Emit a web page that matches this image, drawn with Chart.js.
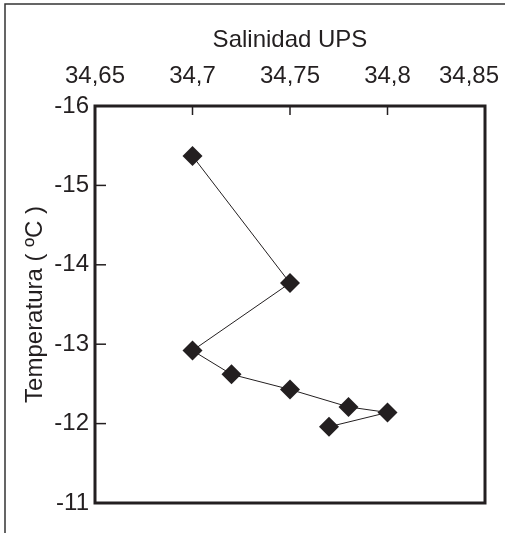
<!DOCTYPE html>
<html lang="es">
<head>
    <meta charset="UTF-8">
    <title>Salinidad vs Temperatura</title>
    <script src="https://cdn.jsdelivr.net/npm/chart.js"></script>
    <style>
        body {
            margin: 0;
            padding: 0;
            background: #fff;
        }
        .chart-box {
            width: 505px;
            height: 533px;
            position: relative;
        }
    </style>
</head>
<body>
    <div class="chart-box">
        <canvas id="tsChart"></canvas>
    </div>

    <script>
        // valores (orden del perfil)
        const salinidad = [34.70, 34.75, 34.70, 34.72, 34.75, 34.78, 34.80, 34.77];
        const temperatura = [-15.37, -13.77, -12.92, -12.62, -12.43, -12.21, -12.14, -11.96];

        const xTicks = [34.65, 34.7, 34.75, 34.8, 34.85];
        const yTicks = [-16, -15, -14, -13, -12, -11];

        const puntos = salinidad.map((s, i) => ({ x: s, y: temperatura[i] }));
        const fuente = { family: "'Liberation Sans', Arial, sans-serif", size: 24 };
        const tinta = '#231f20';
        const etiquetaX = v => String(v).replace('.', ',');

        // marco del area, marcas de tick hacia adentro y etiquetas del eje x
        const marcoPlugin = {
            id: 'marco',
            afterDatasetsDraw(chart) {
                const ctx = chart.ctx;
                const a = chart.chartArea;
                const xs = chart.scales.x;
                const ys = chart.scales.y;
                ctx.save();
                ctx.strokeStyle = tinta;
                ctx.lineWidth = 1.5;
                xTicks.forEach(v => {
                    const px = xs.getPixelForValue(v);
                    ctx.beginPath();
                    ctx.moveTo(px, a.top);
                    ctx.lineTo(px, a.top + 9);
                    ctx.stroke();
                });
                yTicks.forEach(v => {
                    const py = ys.getPixelForValue(v);
                    ctx.beginPath();
                    ctx.moveTo(a.left, py);
                    ctx.lineTo(a.left + 11, py);
                    ctx.stroke();
                });
                ctx.lineWidth = 3;
                ctx.strokeRect(a.left, a.top, a.right - a.left, a.bottom - a.top);

                // etiquetas x: centradas en el tick, sin salirse del lienzo
                ctx.fillStyle = tinta;
                ctx.font = `${fuente.size}px ${fuente.family}`;
                ctx.textAlign = 'center';
                ctx.textBaseline = 'alphabetic';
                xTicks.forEach(v => {
                    const txt = etiquetaX(v);
                    const w = ctx.measureText(txt).width;
                    let px = xs.getPixelForValue(v);
                    px = Math.min(px, chart.width - 6 - w / 2);
                    ctx.fillText(txt, px, a.top - 23);
                });

                // marco exterior (solo arriba e izquierda)
                ctx.lineWidth = 1.5;
                ctx.strokeStyle = '#333';
                ctx.beginPath();
                ctx.moveTo(5, chart.height);
                ctx.lineTo(5, 4);
                ctx.lineTo(chart.width, 4);
                ctx.stroke();
                ctx.restore();
            }
        };

        new Chart(document.getElementById('tsChart'), {
            type: 'scatter',
            data: {
                datasets: [{
                    data: puntos,
                    showLine: true,
                    borderColor: tinta,
                    borderWidth: 1,
                    backgroundColor: tinta,
                    pointStyle: 'rectRot',
                    pointRadius: 10,
                    pointHoverRadius: 10,
                    pointBorderWidth: 0,
                    clip: false
                }]
            },
            options: {
                responsive: true,
                maintainAspectRatio: false,
                animation: false,
                layout: { padding: { left: 0, top: 0, right: 20, bottom: 30 } },
                plugins: {
                    legend: { display: false },
                    tooltip: { enabled: false }
                },
                scales: {
                    x: {
                        type: 'linear',
                        position: 'top',
                        min: 34.65,
                        max: 34.85,
                        afterBuildTicks: scale => { scale.ticks = xTicks.map(v => ({ value: v })); },
                        afterFit: scale => {
                            scale.height = 106;
                            scale.paddingLeft = 0;
                            scale.paddingRight = 0;
                        },
                        grid: { display: false, drawTicks: false },
                        border: { display: false },
                        ticks: { display: false },
                        title: {
                            display: true,
                            text: 'Salinidad UPS',
                            color: tinta,
                            font: fuente,
                            padding: { top: 26, bottom: 0 }
                        }
                    },
                    y: {
                        type: 'linear',
                        min: -16,
                        max: -11,
                        reverse: true,
                        afterBuildTicks: scale => { scale.ticks = yTicks.map(v => ({ value: v })); },
                        afterFit: scale => {
                            scale.width = 95;
                            scale.paddingTop = 0;
                            scale.paddingBottom = 0;
                        },
                        grid: { display: false, drawTicks: false },
                        border: { display: false },
                        ticks: {
                            color: tinta,
                            font: fuente,
                            padding: 6
                        },
                        title: {
                            display: true,
                            text: 'Temperatura ( ºC )',
                            color: tinta,
                            font: fuente,
                            padding: { top: 21, bottom: 0 }
                        }
                    }
                }
            },
            plugins: [marcoPlugin]
        });
    </script>
</body>
</html>
